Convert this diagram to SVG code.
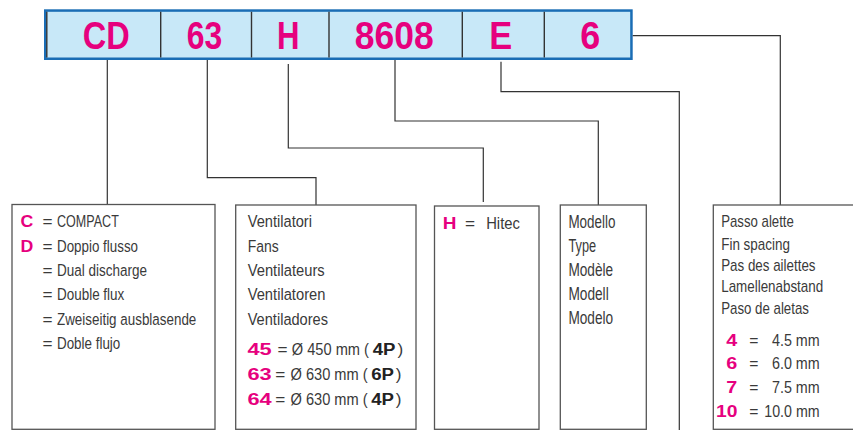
<svg xmlns="http://www.w3.org/2000/svg" width="853" height="430" viewBox="0 0 853 430">
  <style>
    .bg { fill: #ffffff; }
    .code { fill: #c8e8f8; stroke: #1a6db5; stroke-width: 2.5; }
    .div { stroke: #333333; stroke-width: 1.4; fill: none; }
    .box { fill: #ffffff; stroke: #555555; stroke-width: 1.3; }
    .wire { fill: none; stroke: #333333; stroke-width: 1.2; }
    text { font-family: "Liberation Sans", Arial, sans-serif; }
    .big { font-size: 38.5px; font-weight: bold; fill: #e6007e; text-anchor: middle; }
    .t { font-size: 17.2px; fill: #3a3a3a; }
    .s { font-size: 15.7px; fill: #3a3a3a; }
    .m { font-size: 17.6px; fill: #3a3a3a; }
    .k { font-weight: bold; fill: #e6007e; }
    .b { font-weight: bold; fill: #222222; }
  </style>

  <rect class="bg" x="0" y="0" width="853" height="430"/>

  <!-- type code bar -->
  <g id="code-bar">
    <rect class="code" x="45.25" y="10.55" width="586.2" height="48.2"/>
    <line class="div" x1="46.8" y1="11.8" x2="46.8" y2="57.5"/>
    <line class="div" x1="160.7" y1="11.8" x2="160.7" y2="57.5"/>
    <line class="div" x1="251.5" y1="11.8" x2="251.5" y2="57.5"/>
    <line class="div" x1="329" y1="11.8" x2="329" y2="57.5"/>
    <line class="div" x1="462.3" y1="11.8" x2="462.3" y2="57.5"/>
    <line class="div" x1="544.3" y1="11.8" x2="544.3" y2="57.5"/>
    <text class="big" x="106.3" y="49.3" textLength="47" lengthAdjust="spacingAndGlyphs">CD</text>
    <text class="big" x="204.6" y="49.3" textLength="35.5" lengthAdjust="spacingAndGlyphs">63</text>
    <text class="big" x="288.3" y="49.3" textLength="22.5" lengthAdjust="spacingAndGlyphs">H</text>
    <text class="big" x="394.2" y="49.3" textLength="79" lengthAdjust="spacingAndGlyphs">8608</text>
    <text class="big" x="500.8" y="49.3" textLength="23" lengthAdjust="spacingAndGlyphs">E</text>
    <text class="big" x="590.3" y="49.3" textLength="20" lengthAdjust="spacingAndGlyphs">6</text>
  </g>

  <!-- leader lines from each code segment to its legend box -->
  <g id="connectors">
    <path class="wire" d="M107.3 60 V204.5"/>
    <path class="wire" d="M207.3 60 V177.7 H316 V205"/>
    <path class="wire" d="M288.3 64 V148 H483.3 V202"/>
    <path class="wire" d="M395 60 V121 H598.3 V205"/>
    <path class="wire" d="M501 61.7 V91.7 H679.3 V430"/>
    <path class="wire" d="M632.7 35.7 H780.3 V205"/>
  </g>

  <!-- series -->
  <g id="box-series">
    <rect class="box" x="12" y="204.5" width="203" height="224.8"/>
    <text class="t k" x="20.4" y="227.3" textLength="12.8" lengthAdjust="spacingAndGlyphs">C</text>
    <text class="t k" x="20.4" y="251.6" textLength="12.8" lengthAdjust="spacingAndGlyphs">D</text>
    <text class="t" x="42.6" y="227.3">=</text>
    <text class="t" x="42.6" y="251.6">=</text>
    <text class="t" x="42.6" y="275.9">=</text>
    <text class="t" x="42.6" y="300.2">=</text>
    <text class="t" x="42.6" y="324.5">=</text>
    <text class="t" x="42.6" y="348.8">=</text>
    <text class="t" x="57" y="227.3" textLength="61.8" lengthAdjust="spacingAndGlyphs">COMPACT</text>
    <text class="t" x="57" y="251.6" textLength="81" lengthAdjust="spacingAndGlyphs">Doppio flusso</text>
    <text class="t" x="57" y="275.9" textLength="90" lengthAdjust="spacingAndGlyphs">Dual discharge</text>
    <text class="t" x="57" y="300.2" textLength="67.3" lengthAdjust="spacingAndGlyphs">Double flux</text>
    <text class="t" x="57" y="324.5" textLength="139.3" lengthAdjust="spacingAndGlyphs">Zweiseitig ausblasende</text>
    <text class="t" x="57" y="348.8" textLength="63.3" lengthAdjust="spacingAndGlyphs">Doble flujo</text>
  </g>

  <!-- fans -->
  <g id="box-fans">
    <rect class="box" x="235.7" y="205" width="180.3" height="224.3"/>
    <text class="t" x="247.7" y="227.3" textLength="64.3" lengthAdjust="spacingAndGlyphs">Ventilatori</text>
    <text class="t" x="247.7" y="251.7" textLength="31" lengthAdjust="spacingAndGlyphs">Fans</text>
    <text class="t" x="247.7" y="276" textLength="77" lengthAdjust="spacingAndGlyphs">Ventilateurs</text>
    <text class="t" x="247.7" y="300.3" textLength="77.7" lengthAdjust="spacingAndGlyphs">Ventilatoren</text>
    <text class="t" x="247.7" y="324.7" textLength="80.3" lengthAdjust="spacingAndGlyphs">Ventiladores</text>

    <text class="t k" x="247.5" y="355" textLength="24.2" lengthAdjust="spacingAndGlyphs">45</text>
    <text class="t" x="277.5" y="355">=</text>
    <text class="t" transform="translate(291.8 355) scale(0.85 1)">Ø 450 mm (</text>
    <text class="t b" transform="translate(372.8 355) scale(1.08 1)">4P</text>
    <text class="t" x="397.4" y="355">)</text>

    <text class="t k" x="247.5" y="380" textLength="24.2" lengthAdjust="spacingAndGlyphs">63</text>
    <text class="t" x="275.3" y="380">=</text>
    <text class="t" transform="translate(290.5 380) scale(0.85 1)">Ø 630 mm (</text>
    <text class="t b" transform="translate(371.2 380) scale(1.08 1)">6P</text>
    <text class="t" x="395.8" y="380">)</text>

    <text class="t k" x="247.5" y="405" textLength="24.2" lengthAdjust="spacingAndGlyphs">64</text>
    <text class="t" x="275.3" y="405">=</text>
    <text class="t" transform="translate(290.5 405) scale(0.85 1)">Ø 630 mm (</text>
    <text class="t b" transform="translate(371.2 405) scale(1.08 1)">4P</text>
    <text class="t" x="395.8" y="405">)</text>
  </g>

  <!-- coil type -->
  <g id="box-coil">
    <rect class="box" x="434.5" y="206" width="104.5" height="223.3"/>
    <text class="t k" x="442.8" y="229" textLength="13.7" lengthAdjust="spacingAndGlyphs">H</text>
    <text class="t" x="465" y="229">=</text>
    <text class="t" x="486.2" y="229" textLength="33.7" lengthAdjust="spacingAndGlyphs">Hitec</text>
  </g>

  <!-- model -->
  <g id="box-model">
    <rect class="box" x="560.3" y="205" width="86" height="224.3"/>
    <text class="m" x="568.4" y="228.3" textLength="47" lengthAdjust="spacingAndGlyphs">Modello</text>
    <text class="m" x="568.4" y="252.3" textLength="27.7" lengthAdjust="spacingAndGlyphs">Type</text>
    <text class="m" x="568.4" y="276.2" textLength="44.7" lengthAdjust="spacingAndGlyphs">Modèle</text>
    <text class="m" x="568.4" y="300.2" textLength="40.3" lengthAdjust="spacingAndGlyphs">Modell</text>
    <text class="m" x="568.4" y="324.2" textLength="44.7" lengthAdjust="spacingAndGlyphs">Modelo</text>
  </g>

  <!-- fin spacing -->
  <g id="box-fin">
    <rect class="box" x="713.3" y="205" width="150" height="224.3"/>
    <text class="s" x="721.2" y="227.3" textLength="72.7" lengthAdjust="spacingAndGlyphs">Passo alette</text>
    <text class="s" x="721.2" y="249.5" textLength="68.7" lengthAdjust="spacingAndGlyphs">Fin spacing</text>
    <text class="s" x="721.2" y="270.8" textLength="94.3" lengthAdjust="spacingAndGlyphs">Pas des ailettes</text>
    <text class="s" x="721.2" y="292.2" textLength="102" lengthAdjust="spacingAndGlyphs">Lamellenabstand</text>
    <text class="s" x="721.2" y="313.6" textLength="87.7" lengthAdjust="spacingAndGlyphs">Paso de aletas</text>
    <text class="s k" x="726.2" y="346" textLength="11" lengthAdjust="spacingAndGlyphs">4</text>
    <text class="s k" x="726.2" y="369.3" textLength="11" lengthAdjust="spacingAndGlyphs">6</text>
    <text class="s k" x="726.2" y="392.7" textLength="11" lengthAdjust="spacingAndGlyphs">7</text>
    <text class="s k" x="716" y="416.7" textLength="21.5" lengthAdjust="spacingAndGlyphs">10</text>
    <text class="s" x="749.3" y="346">=</text>
    <text class="s" x="749.3" y="369.3">=</text>
    <text class="s" x="749.3" y="392.7">=</text>
    <text class="s" x="749.3" y="416.7">=</text>
    <text class="s" x="772" y="346" textLength="47.7" lengthAdjust="spacingAndGlyphs">4.5 mm</text>
    <text class="s" x="772" y="369.3" textLength="47.7" lengthAdjust="spacingAndGlyphs">6.0 mm</text>
    <text class="s" x="772" y="392.7" textLength="47.7" lengthAdjust="spacingAndGlyphs">7.5 mm</text>
    <text class="s" x="764.3" y="416.7" textLength="55.3" lengthAdjust="spacingAndGlyphs">10.0 mm</text>
  </g>
</svg>
